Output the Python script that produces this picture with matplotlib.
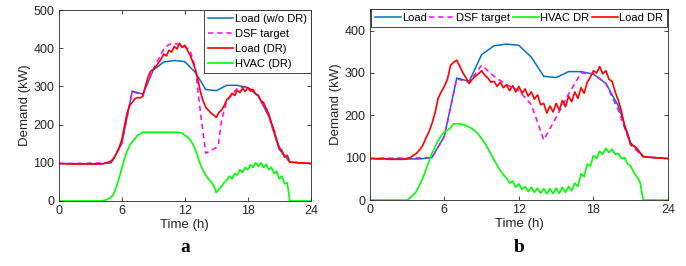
import numpy as np
import matplotlib
matplotlib.use("Agg")
import matplotlib.pyplot as plt

plt.rcParams['font.family'] = ['Liberation Sans', 'DejaVu Sans']

# ---- data ----
hours = [0, 1, 2, 3, 4, 5, 6, 7, 8, 9, 10, 11, 12, 13, 14, 15, 16, 17, 18, 19, 20, 21, 22, 23, 24]
load_base = [98, 98, 97, 97, 97, 100, 150, 288, 280, 343, 364, 368, 365, 337, 292, 289, 303, 303, 297, 275, 222, 135, 102, 100, 98]

dsf_a_t = [0, 5, 6, 7, 8, 9, 9.5, 10, 10.5, 11, 11.5, 12, 12.5, 13, 13.5, 14, 15, 15.2, 15.5, 16, 17, 18, 19, 20, 21, 22, 24]
dsf_a = [98, 100, 150, 286, 278, 345, 372, 398, 410, 413, 410, 405, 395, 350, 230, 125, 140, 148, 212, 262, 295, 300, 275, 222, 135, 102, 98]

dsf_b_t = [0, 5, 6, 7, 8, 9, 10, 11, 12, 13, 14, 15, 16, 17, 18, 19, 20, 21, 22, 24]
dsf_b = [98, 100, 150, 286, 278, 318, 292, 272, 258, 225, 142, 195, 250, 300, 298, 275, 212, 130, 102, 98]

# quarter-hour series
t_q = np.arange(0, 24.01, 0.25)

load_dr_a = [98, 98, 98, 97, 97, 97, 97, 97, 97, 97, 97, 97, 97, 97, 97, 97,
             97, 98, 100, 102, 105, 112, 125, 140, 160, 195, 230, 250,
             258, 268, 271, 270, 274, 300, 325, 340, 345, 352, 362, 372,
             385, 380, 395, 390, 405, 398, 413, 402, 408, 395, 382, 365,
             345, 318, 285, 262, 245, 238, 230, 225, 219, 232, 238, 250,
             265, 272, 282, 276, 290, 284, 295, 287, 297, 288, 292, 280,
             277, 262, 258, 242, 228, 205, 185, 160, 140, 132, 115, 120,
             102, 101, 101, 100, 100, 100, 99, 99, 98]

hvac_a = [0, 0, 0, 0, 0, 0, 0, 0, 0, 0, 0, 0, 0, 0, 0, 0,
          0, 1, 3, 6, 10, 20, 38, 60, 85, 110, 130, 145,
          155, 163, 172, 176, 180, 180, 180, 180, 180, 180, 180, 180,
          180, 180, 180, 180, 180, 180, 179, 178, 172, 168, 160, 150,
          135, 115, 95, 80, 68, 58, 50, 40, 22, 30, 38, 48,
          55, 65, 58, 72, 68, 82, 75, 88, 82, 95, 88, 100,
          90, 100, 88, 96, 82, 88, 72, 78, 58, 65, 45, 48,
          0, 0, 0, 0, 0, 0, 0, 0, 0]

load_dr_b = [98, 98, 97, 97, 97, 97, 96, 96, 96, 96, 96, 96, 97, 100, 105, 110,
             118, 128, 145, 160, 180, 205, 240, 255, 268, 285, 318, 325,
             330, 315, 300, 288, 275, 285, 292, 298, 305, 295, 288, 278,
             280, 268, 278, 265, 272, 258, 270, 255, 268, 252, 262, 245,
             255, 238, 248, 225, 228, 205, 222, 208, 228, 212, 235, 220,
             245, 232, 255, 240, 265, 252, 278, 290, 305, 300, 315, 298,
             305, 285, 280, 255, 235, 210, 175, 155, 130, 128, 122, 112,
             103, 102, 101, 100, 100, 99, 99, 98, 98]

hvac_b = [0, 0, 0, 0, 0, 0, 0, 0, 0, 0, 0, 0, 0, 5, 12, 20,
          35, 50, 70, 90, 110, 125, 140, 152, 160, 165, 170, 180,
          180, 180, 178, 176, 172, 168, 162, 155, 145, 135, 122, 108,
          95, 82, 70, 60, 52, 40, 45, 30, 38, 25, 32, 20,
          30, 18, 28, 16, 27, 15, 27, 15, 28, 16, 30, 18,
          32, 22, 40, 32, 62, 55, 85, 80, 105, 98, 115, 108,
          122, 112, 120, 108, 110, 98, 100, 85, 80, 65, 55, 42,
          0, 0, 0, 0, 0, 0, 0, 0, 0]

BLUE = '#0072BD'
MAG = '#FF00FF'
RED = '#FF0000'
GREEN = '#00FF00'
DARK = '#262626'

fig = plt.figure(figsize=(6.86, 2.66), dpi=100)
ax1 = fig.add_axes([0.0856, 0.2444, 0.3675, 0.7176])
ax2 = fig.add_axes([0.539, 0.248, 0.4348, 0.717])


def style(ax, ymax, yticks):
    ax.set_xlim(0, 24)
    ax.set_ylim(0, ymax)
    ax.set_xticks([0, 6, 12, 18, 24])
    ax.set_yticks(yticks)
    ax.tick_params(direction='in', length=3, width=0.6, top=True, right=True,
                   labelsize=9, colors=DARK, pad=3)
    for s in ax.spines.values():
        s.set_linewidth(0.6)
        s.set_color(DARK)
    ax.set_xlabel('Time (h)', fontsize=9.5, color=DARK, labelpad=1)
    ax.set_ylabel('Demand (kW)', fontsize=9.5, color=DARK, labelpad=2)


dash = (0, (3.5, 2.5))

ax1.plot(hours, load_base, color=BLUE, lw=1.1, label='Load (w/o DR)')
ax1.plot(dsf_a_t, dsf_a, color=MAG, lw=1.1, ls=dash, label='DSF target')
ax1.plot(t_q, load_dr_a, color=RED, lw=1.2, label='Load (DR)')
ax1.plot(t_q, hvac_a, color=GREEN, lw=1.2, label='HVAC (DR)')
style(ax1, 500, [0, 100, 200, 300, 400, 500])
leg1 = ax1.legend(loc='upper right', borderaxespad=0, fontsize=8, handlelength=2.3,
                  handletextpad=0.15, labelspacing=0.45, borderpad=0.35,
                  fancybox=False, edgecolor=DARK, framealpha=1)
leg1.get_frame().set_linewidth(0.6)

ax2.plot(hours, load_base, color=BLUE, lw=1.1, label='Load')
ax2.plot(dsf_b_t, dsf_b, color=MAG, lw=1.1, ls=dash, label='DSF target')
ax2.plot(t_q, hvac_b, color=GREEN, lw=1.2, label='HVAC DR')
ax2.plot(t_q, load_dr_b, color=RED, lw=1.2, label='Load DR')
style(ax2, 450, [0, 100, 200, 300, 400])
leg2 = ax2.legend(loc='upper center', borderaxespad=0, fontsize=8, ncol=4,
                  handlelength=2.3, handletextpad=0.12, columnspacing=0.25,
                  borderpad=0.35, fancybox=False, edgecolor=DARK, framealpha=1)
leg2.get_frame().set_linewidth(0.6)

fig.text(0.0856 + 0.3675 / 2, 0.068, 'a', ha='center', va='center',
         fontsize=14, fontweight='bold', family='Liberation Serif')
fig.text(0.539 + 0.4348 / 2, 0.068, 'b', ha='center', va='center',
         fontsize=14, fontweight='bold', family='Liberation Serif')

fig.savefig('out.png', dpi=100)
